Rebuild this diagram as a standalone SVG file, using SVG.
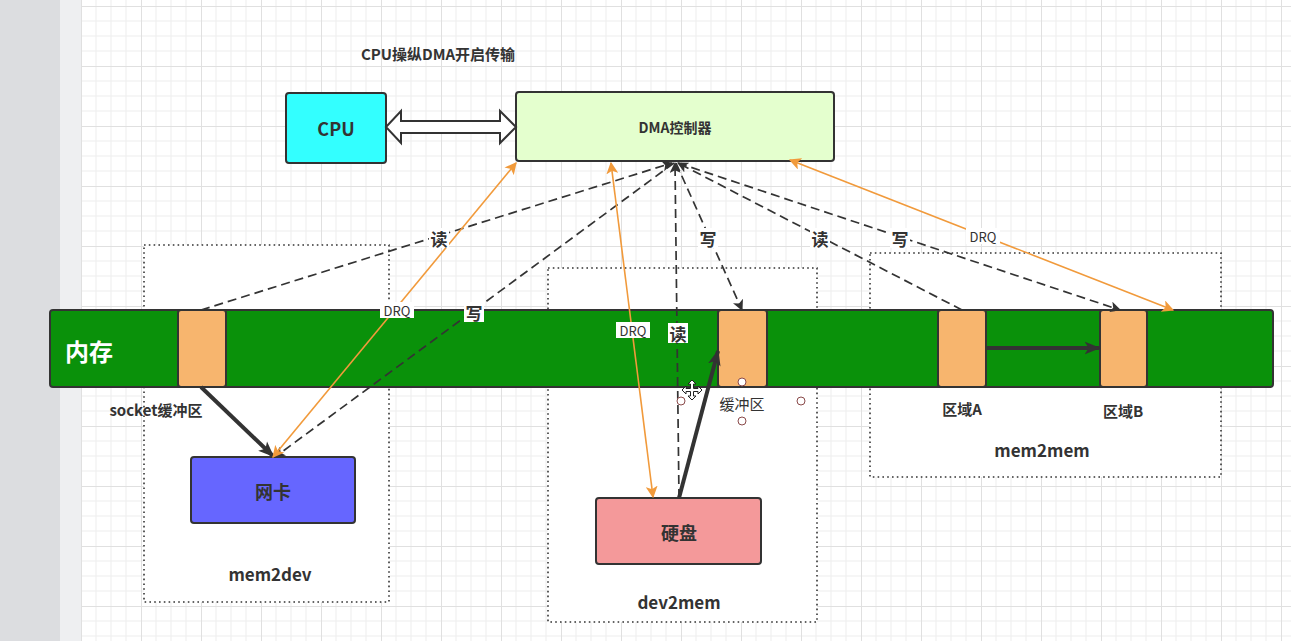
<svg xmlns="http://www.w3.org/2000/svg" width="1291" height="641" viewBox="0 0 1291 641">
<defs>
<style>
.t{font-family:"Noto Sans CJK SC","Liberation Sans",sans-serif;fill:#333;text-anchor:middle;dominant-baseline:central}
.b{font-weight:bold}
.box{stroke:#333;stroke-width:2}
.dot{fill:#fff;stroke:#333;stroke-width:1.6;stroke-dasharray:1.6 3.2}
.dash{fill:none;stroke:#333;stroke-width:1.7;stroke-dasharray:9 5}
.thick{fill:none;stroke:#333;stroke-width:4}
.org{fill:none;stroke:#F19A3B;stroke-width:1.6}
.buf{fill:#F7B56E;stroke:#333;stroke-width:2}
.lbg{fill:#fff}
.h{fill:#fff;stroke:#8a4a4a;stroke-width:1}
</style>
<pattern id="grid" width="60" height="60" patternUnits="userSpaceOnUse" x="81" y="6">
<rect width="60" height="60" fill="#fff"/>
<path d="M15 0V60M30 0V60M45 0V60M0 15H60M0 30H60M0 45H60" stroke="#eeeeee" stroke-width="1"/>
<path d="M0.5 0V60M0 0.5H60" stroke="#e0e0e0" stroke-width="1"/>
</pattern>
<marker id="ah" viewBox="0 0 10 10" refX="9" refY="5" markerWidth="11" markerHeight="11" markerUnits="userSpaceOnUse" orient="auto-start-reverse">
<path d="M0 0L10 5L0 10L2.5 5Z" fill="#333"/>
</marker>
<marker id="ahT" viewBox="0 0 10 10" refX="9" refY="5" markerWidth="16" markerHeight="16" markerUnits="userSpaceOnUse" orient="auto">
<path d="M0 1L10 5L0 9L2.5 5Z" fill="#333"/>
</marker>
<marker id="ahO" viewBox="0 0 10 10" refX="9" refY="5" markerWidth="12" markerHeight="12" markerUnits="userSpaceOnUse" orient="auto-start-reverse">
<path d="M0 0L10 5L0 10L2.5 5Z" fill="#F19A3B"/>
</marker>
</defs>
<rect x="0" y="0" width="60" height="641" fill="#DCDDE0"/>
<rect x="60" y="0" width="21" height="641" fill="#EEEFF1"/>
<rect x="81" y="0" width="1210" height="641" fill="url(#grid)"/>

<text class="t b" x="438" y="53" font-size="15">CPU操纵DMA开启传输</text>

<g id="frame-mem2dev"><rect class="dot" x="144" y="245" width="245" height="357"/><text class="t b" x="270" y="573" font-size="17">mem2dev</text></g>
<g id="frame-dev2mem"><rect class="dot" x="548" y="268" width="269" height="354"/><text class="t b" x="679" y="601" font-size="17">dev2mem</text></g>
<g id="frame-mem2mem"><rect class="dot" x="870" y="253" width="351" height="224"/><text class="t b" x="1042" y="449" font-size="17">mem2mem</text></g>

<g id="cpu"><rect class="box" x="286" y="93" width="100" height="70" rx="3" fill="#33FFFF"/><text class="t b" x="336" y="128" font-size="18">CPU</text></g>
<g id="dma"><rect class="box" x="516" y="92" width="318" height="69" rx="3" fill="#E4FFCE"/><text class="t b" x="675" y="127" font-size="14">DMA控制器</text></g>
<g id="cpu-dma-link"><polygon points="386,127 401,111 401,121 500,121 500,111 516,127 500,143 500,133 401,133 401,143" fill="#fff" stroke="#333" stroke-width="2"/></g>

<g id="memory"><rect class="box" x="50" y="310" width="1223" height="77" rx="3" fill="#0A910A"/><text class="t b" x="89" y="350" font-size="24" style="fill:#fff">内存</text></g>
<g id="socket-buf"><rect class="buf" x="178" y="310" width="48" height="77" rx="3"/><text class="t b" x="156" y="409" font-size="15">socket缓冲区</text></g>
<g id="buf"><rect class="buf" x="718" y="310" width="49" height="77" rx="3"/><text class="t" x="742" y="403" font-size="15">缓冲区</text></g>
<g id="areaA"><rect class="buf" x="938" y="310" width="48" height="77" rx="3"/><text class="t b" x="962" y="408" font-size="15">区域A</text></g>
<g id="areaB"><rect class="buf" x="1100" y="310" width="47" height="77" rx="3"/><text class="t b" x="1123" y="410" font-size="15">区域B</text></g>
<g id="nic"><rect class="box" x="191" y="457" width="164" height="66" rx="3" fill="#6666FF"/><text class="t b" x="273" y="491" font-size="18">网卡</text></g>
<g id="disk"><rect class="box" x="596" y="498" width="165" height="66" rx="3" fill="#F4999A"/><text class="t b" x="679" y="532" font-size="18">硬盘</text></g>

<g id="connectors">
<line class="thick" x1="201" y1="387" x2="273" y2="456" marker-end="url(#ahT)"/>
<line class="thick" x1="679" y1="498" x2="718" y2="351" marker-end="url(#ahT)"/>
<line class="thick" x1="986" y1="348" x2="1099" y2="348" marker-end="url(#ahT)"/>
<line class="dash" x1="201" y1="310" x2="672" y2="163" marker-end="url(#ah)"/>
<line class="dash" x1="674" y1="163" x2="275" y2="457" marker-end="url(#ah)"/>
<line class="dash" x1="679" y1="498" x2="675" y2="163" marker-end="url(#ah)"/>
<line class="dash" x1="676" y1="163" x2="742" y2="310" marker-end="url(#ah)"/>
<line class="dash" x1="962" y1="310" x2="678" y2="163" marker-end="url(#ah)"/>
<line class="dash" x1="678" y1="163" x2="1120" y2="310" marker-end="url(#ah)"/>
<line class="org" x1="273" y1="457" x2="516" y2="163" marker-start="url(#ahO)" marker-end="url(#ahO)"/>
<line class="org" x1="611" y1="163" x2="653" y2="497" marker-start="url(#ahO)" marker-end="url(#ahO)"/>
<line class="org" x1="790" y1="160" x2="1173" y2="310" marker-start="url(#ahO)" marker-end="url(#ahO)"/>
</g>

<g id="labels">
<rect class="lbg" x="429" y="228" width="20" height="20"/><text class="t b" x="439" y="238" font-size="17">读</text>
<rect class="lbg" x="464" y="302" width="20" height="20"/><text class="t b" x="474" y="312" font-size="17">写</text>
<rect class="lbg" x="380" y="302" width="34" height="16"/><text class="t" x="397" y="310" font-size="13">DRQ</text>
<rect class="lbg" x="616" y="322" width="34" height="16"/><text class="t" x="633" y="330" font-size="13">DRQ</text>
<rect class="lbg" x="668" y="323" width="20" height="20"/><text class="t b" x="678" y="333" font-size="17">读</text>
<rect class="lbg" x="698" y="228" width="20" height="20"/><text class="t b" x="708" y="238" font-size="17">写</text>
<rect class="lbg" x="810" y="228" width="20" height="20"/><text class="t b" x="820" y="238" font-size="17">读</text>
<rect class="lbg" x="890" y="228" width="20" height="20"/><text class="t b" x="900" y="238" font-size="17">写</text>
<rect class="lbg" x="966" y="228" width="34" height="16"/><text class="t" x="983" y="236" font-size="13">DRQ</text>
</g>

<g id="selection">
<circle class="h" cx="742" cy="382" r="4"/>
<circle class="h" cx="681" cy="401" r="4"/>
<circle class="h" cx="801" cy="401" r="4"/>
<circle class="h" cx="742" cy="421" r="4"/>
<path d="M692 380L696 384H693.5V388.5H698V386L702 390L698 394V391.5H693.5V396H696L692 400L688 396H690.5V391.5H686V394L682 390L686 386V388.5H690.5V384H688Z" fill="#fff" stroke="#222" stroke-width="1"/>
</g>
</svg>
